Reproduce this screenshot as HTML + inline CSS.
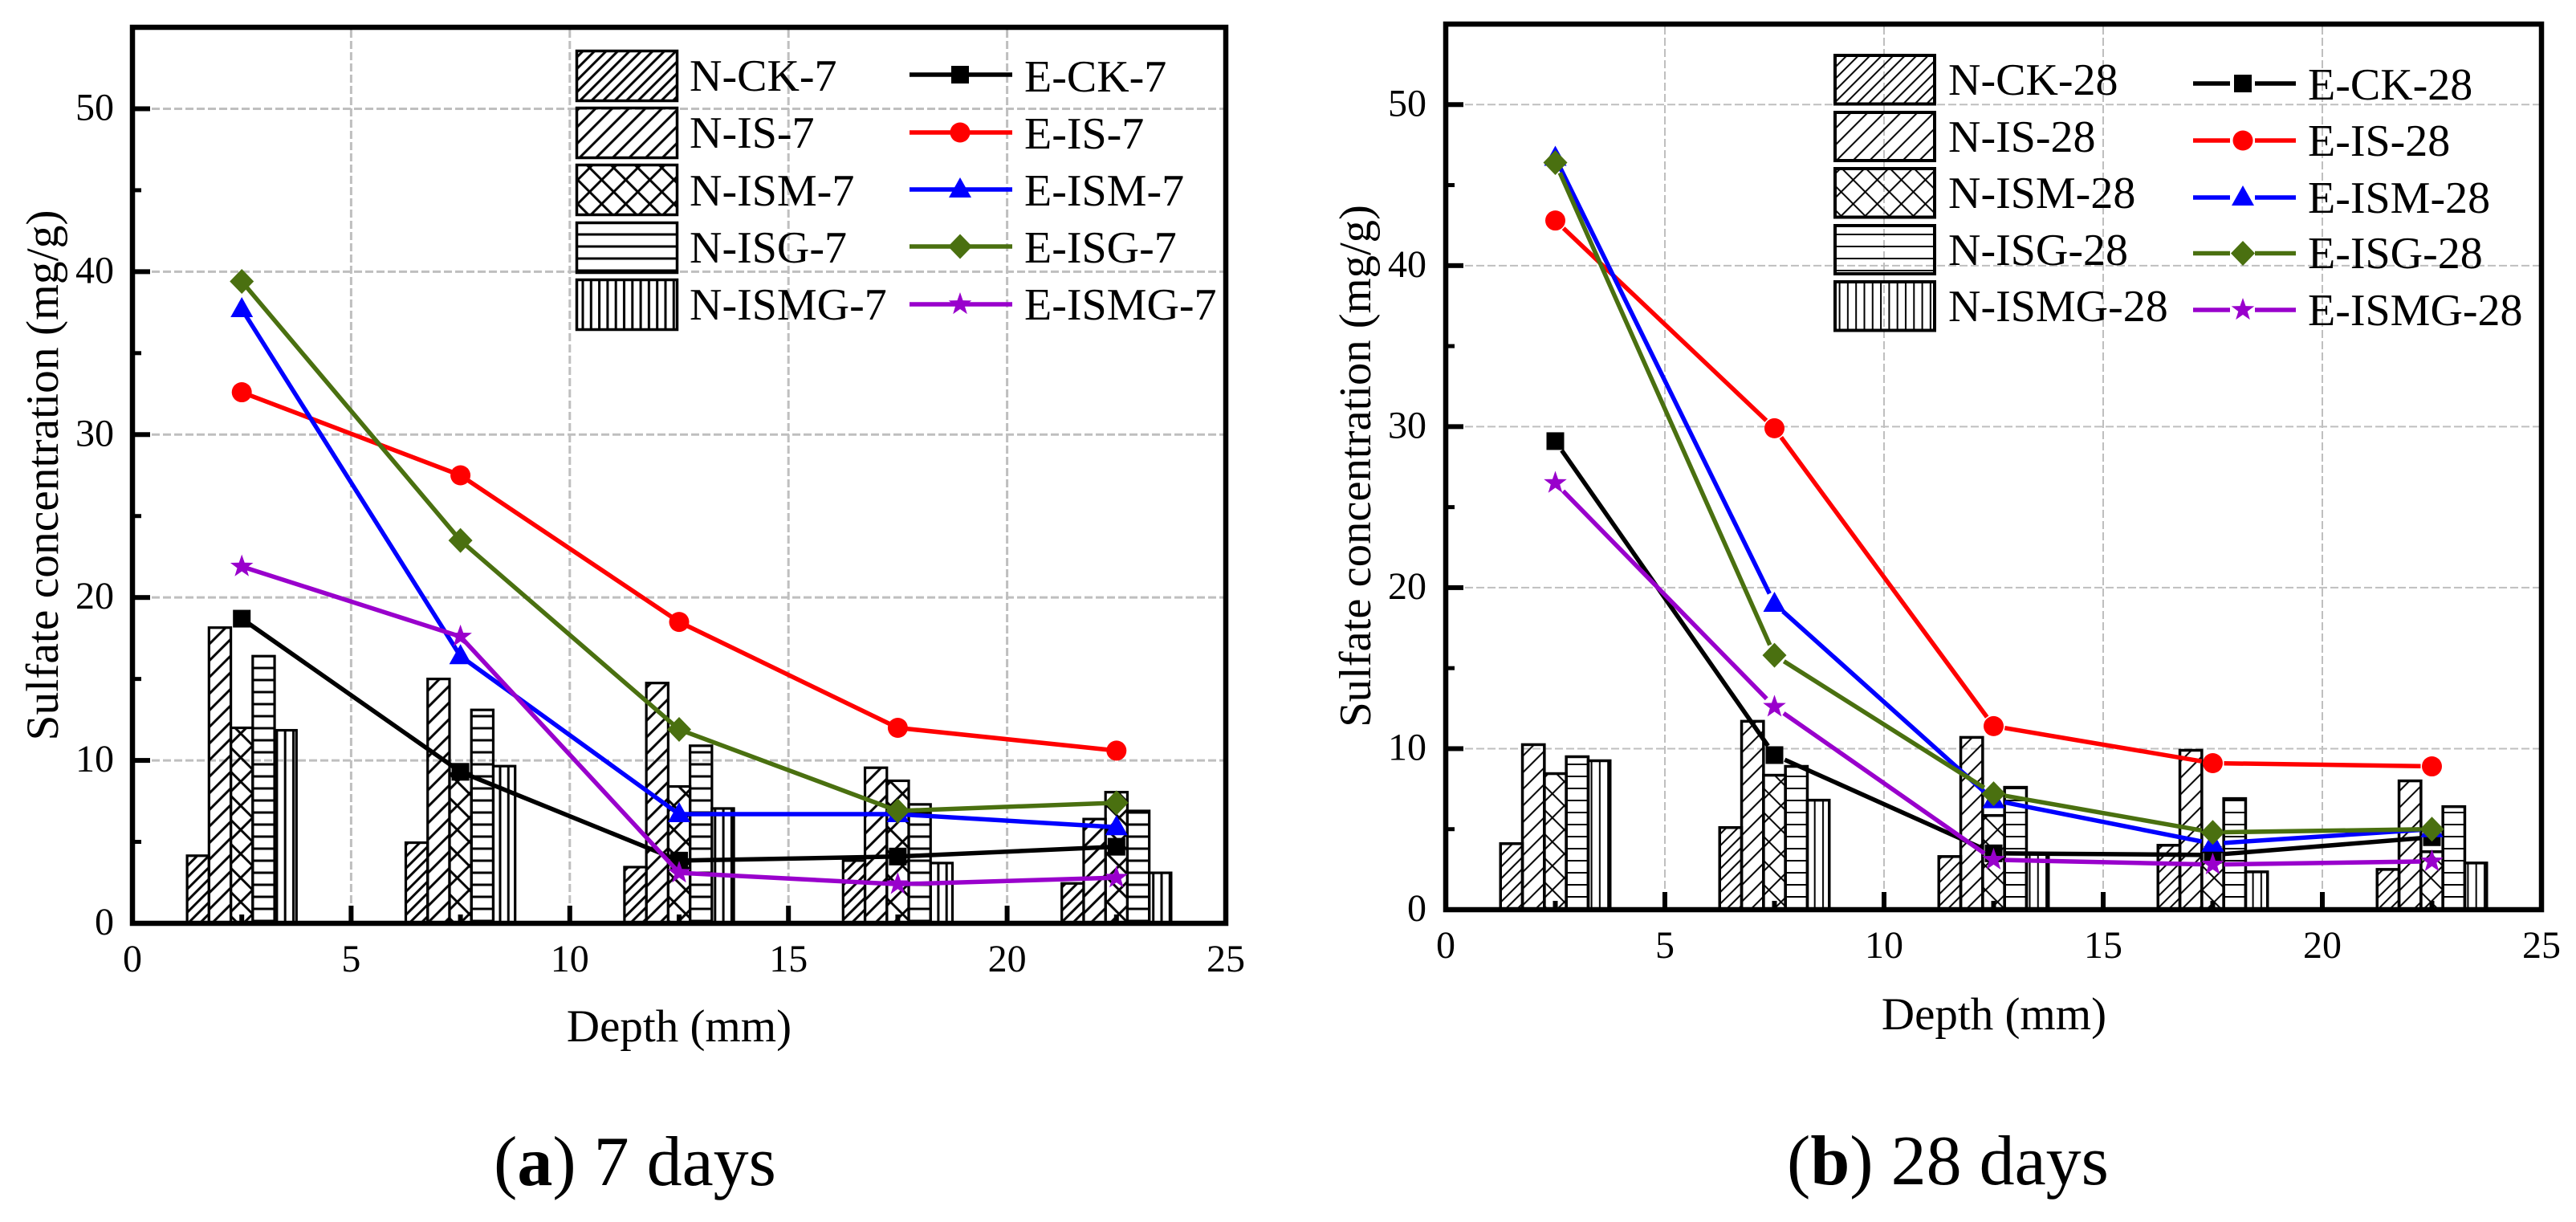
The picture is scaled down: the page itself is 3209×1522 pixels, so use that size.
<!DOCTYPE html>
<html lang="en">
<head>
<meta charset="utf-8">
<title>Sulfate concentration vs depth</title>
<style>
html,body{margin:0;padding:0;background:#fff;}
svg{display:block;}
text{font-family:"Liberation Serif",serif;fill:#000;}
.leg{font-size:56px;}
.ttl{font-size:57px;}
.cap{font-size:88px;}
</style>
</head>
<body>
<svg id="figure" xmlns="http://www.w3.org/2000/svg" width="3209" height="1522" viewBox="0 0 3209 1522">
<defs>
<pattern id="ck-7" patternUnits="userSpaceOnUse" width="10.25" height="10.25" patternTransform="rotate(45)"><line x1="5" y1="0" x2="5" y2="10.25" stroke="#000" stroke-width="3"/></pattern>
<pattern id="is-7" patternUnits="userSpaceOnUse" width="14.6" height="14.6" patternTransform="rotate(45)"><line x1="7" y1="0" x2="7" y2="14.6" stroke="#000" stroke-width="3"/></pattern>
<pattern id="ism-7" patternUnits="userSpaceOnUse" width="21.2" height="21.2" patternTransform="rotate(45)"><line x1="10" y1="0" x2="10" y2="21.2" stroke="#000" stroke-width="3"/><line x1="0" y1="10" x2="21.2" y2="10" stroke="#000" stroke-width="3"/></pattern>
<pattern id="isg-7" patternUnits="userSpaceOnUse" width="15" height="15"><line x1="0" y1="7" x2="15" y2="7" stroke="#000" stroke-width="3"/></pattern>
<pattern id="ismg-7" patternUnits="userSpaceOnUse" width="10.3" height="10.3"><line x1="5" y1="0" x2="5" y2="10.3" stroke="#000" stroke-width="3"/></pattern>
<pattern id="ck-28" patternUnits="userSpaceOnUse" width="10.25" height="10.25" patternTransform="rotate(45)"><line x1="5" y1="0" x2="5" y2="10.25" stroke="#000" stroke-width="2"/></pattern>
<pattern id="is-28" patternUnits="userSpaceOnUse" width="14.6" height="14.6" patternTransform="rotate(45)"><line x1="7" y1="0" x2="7" y2="14.6" stroke="#000" stroke-width="2"/></pattern>
<pattern id="ism-28" patternUnits="userSpaceOnUse" width="21.2" height="21.2" patternTransform="rotate(45)"><line x1="10" y1="0" x2="10" y2="21.2" stroke="#000" stroke-width="2"/><line x1="0" y1="10" x2="21.2" y2="10" stroke="#000" stroke-width="2"/></pattern>
<pattern id="isg-28" patternUnits="userSpaceOnUse" width="15" height="15"><line x1="0" y1="7" x2="15" y2="7" stroke="#000" stroke-width="2"/></pattern>
<pattern id="ismg-28" patternUnits="userSpaceOnUse" width="10.3" height="10.3"><line x1="5" y1="0" x2="5" y2="10.3" stroke="#000" stroke-width="2"/></pattern>
</defs>

<g id="panel-7"></g>
<g id="panel-28"></g>

<!-- Left panel static text -->
<text class="ttl" text-anchor="middle" style="font-size:57.5px" transform="translate(72,592) rotate(-90)">Sulfate concentration (mg/g)</text>
<text class="ttl" text-anchor="middle" x="846" y="1297">Depth (mm)</text>
<text class="cap" x="615" y="1476">(<tspan font-weight="bold">a</tspan>) 7 days</text>

<!-- Left legend -->
<g>
  <g><rect x="718.5" y="63.5" width="125" height="62" fill="url(#ck-7)" stroke="#000" stroke-width="3.5"/><text class="leg" x="859" y="113">N-CK-7</text></g>
  <g><rect x="718.5" y="134.5" width="125" height="62" fill="url(#is-7)" stroke="#000" stroke-width="3.5"/><text class="leg" x="859" y="184">N-IS-7</text></g>
  <g><rect x="718.5" y="205.5" width="125" height="62" fill="url(#ism-7)" stroke="#000" stroke-width="3.5"/><text class="leg" x="859" y="256">N-ISM-7</text></g>
  <g><rect x="718.5" y="277.5" width="125" height="62" fill="url(#isg-7)" stroke="#000" stroke-width="3.5"/><text class="leg" x="859" y="327">N-ISG-7</text></g>
  <g><rect x="718.5" y="348.5" width="125" height="62" fill="url(#ismg-7)" stroke="#000" stroke-width="3.5"/><text class="leg" x="859" y="398">N-ISMG-7</text></g>

  <g><line x1="1133" y1="93" x2="1261" y2="93" stroke="#000" stroke-width="5.5"/><rect x="1185" y="82" width="22" height="22" fill="#000"/><text class="leg" x="1276" y="114">E-CK-7</text></g>
  <g><line x1="1133" y1="165" x2="1261" y2="165" stroke="#ff0000" stroke-width="5.5"/><circle cx="1196" cy="165" r="12.5" fill="#ff0000"/><text class="leg" x="1276" y="185">E-IS-7</text></g>
  <g><line x1="1133" y1="236" x2="1261" y2="236" stroke="#0000ff" stroke-width="5.5"/><polygon transform="translate(1196,236)" points="0,-15 14,10 -14,10" fill="#0000ff"/><text class="leg" x="1276" y="256">E-ISM-7</text></g>
  <g><line x1="1133" y1="307" x2="1261" y2="307" stroke="#4a7010" stroke-width="5.5"/><polygon transform="translate(1196,307)" points="0,-15.5 15,0 0,15.5 -15,0" fill="#4a7010"/><text class="leg" x="1276" y="327">E-ISG-7</text></g>
  <g><line x1="1133" y1="379" x2="1261" y2="379" stroke="#9900cc" stroke-width="5.5"/><polygon transform="translate(1196,379)" points="0,-15 3.53,-4.85 14.27,-4.64 5.71,1.85 8.82,12.14 0,6 -8.82,12.14 -5.71,1.85 -14.27,-4.64 -3.53,-4.85" fill="#9900cc"/><text class="leg" x="1276" y="398">E-ISMG-7</text></g>
</g>

<!-- Right panel static text -->
<text class="ttl" text-anchor="middle" style="font-size:56.6px" transform="translate(1707,580.5) rotate(-90)">Sulfate concentration (mg/g)</text>
<text class="ttl" text-anchor="middle" x="2484" y="1282">Depth (mm)</text>
<text class="cap" x="2226" y="1475">(<tspan font-weight="bold">b</tspan>) 28 days</text>

<!-- Right legend -->
<g>
  <g><rect x="2286" y="69" width="124" height="60.5" fill="url(#ck-28)" stroke="#000" stroke-width="4"/><text class="leg" x="2427" y="118">N-CK-28</text></g>
  <g><rect x="2286" y="140" width="124" height="60" fill="url(#is-28)" stroke="#000" stroke-width="4"/><text class="leg" x="2427" y="189">N-IS-28</text></g>
  <g><rect x="2286" y="210" width="124" height="60.5" fill="url(#ism-28)" stroke="#000" stroke-width="4"/><text class="leg" x="2427" y="259">N-ISM-28</text></g>
  <g><rect x="2286" y="281" width="124" height="60" fill="url(#isg-28)" stroke="#000" stroke-width="4"/><text class="leg" x="2427" y="330">N-ISG-28</text></g>
  <g><rect x="2286" y="351" width="124" height="60.5" fill="url(#ismg-28)" stroke="#000" stroke-width="4"/><text class="leg" x="2427" y="400">N-ISMG-28</text></g>

  <g><path d="M2732 104H2778M2809 104H2860" stroke="#000" stroke-width="5.5" fill="none"/><rect x="2783" y="93" width="22" height="22" fill="#000"/><text class="leg" x="2875" y="124">E-CK-28</text></g>
  <g><path d="M2732 175H2778M2809 175H2860" stroke="#ff0000" stroke-width="5.5" fill="none"/><circle cx="2794" cy="175" r="12.5" fill="#ff0000"/><text class="leg" x="2875" y="194">E-IS-28</text></g>
  <g><path d="M2732 246H2778M2809 246H2860" stroke="#0000ff" stroke-width="5.5" fill="none"/><polygon transform="translate(2794,246)" points="0,-15 14,10 -14,10" fill="#0000ff"/><text class="leg" x="2875" y="265">E-ISM-28</text></g>
  <g><path d="M2732 315.5H2778M2809 315.5H2860" stroke="#4a7010" stroke-width="5.5" fill="none"/><polygon transform="translate(2794,315.5)" points="0,-15.5 15,0 0,15.5 -15,0" fill="#4a7010"/><text class="leg" x="2875" y="334">E-ISG-28</text></g>
  <g><path d="M2732 386H2778M2809 386H2860" stroke="#9900cc" stroke-width="5.5" fill="none"/><polygon transform="translate(2794,386)" points="0,-15 3.53,-4.85 14.27,-4.64 5.71,1.85 8.82,12.14 0,6 -8.82,12.14 -5.71,1.85 -14.27,-4.64 -3.53,-4.85" fill="#9900cc"/><text class="leg" x="2875" y="405">E-ISMG-28</text></g>
</g>
</svg>

<script>
// ---- Shared categories and tick labels ----
const depths = [2.5, 7.5, 12.5, 17.5, 22.5];
const xTickLabels = [0, 5, 10, 15, 20, 25];
const yTickLabels = [0, 10, 20, 30, 40, 50];
const xMinorTicks = [2.5, 7.5, 12.5, 17.5, 22.5];
const yMinorTicks = [5, 15, 25, 35, 45];

// ---- 7-day bars ----
const nCk7   = [4.15, 4.95, 3.45, 3.85, 2.45];
const nIs7   = [18.15, 15.0, 14.75, 9.55, 6.4];
const nIsm7  = [12.0, 9.2, 8.4, 8.75, 8.05];
const nIsg7  = [16.4, 13.1, 10.9, 7.3, 6.9];
const nIsmg7 = [11.85, 9.65, 7.05, 3.7, 3.1];

// ---- 7-day lines ----
const eCk7   = [18.7, 9.3, 3.85, 4.1, 4.7];
const eIs7   = [32.6, 27.5, 18.5, 12.0, 10.6];
const eIsm7  = [37.7, 16.4, 6.7, 6.7, 5.9];
const eIsg7  = [39.4, 23.5, 11.9, 6.9, 7.4];
const eIsmg7 = [21.9, 17.6, 3.1, 2.4, 2.8];

// ---- 28-day bars ----
const nCk28   = [4.1, 5.1, 3.3, 4.0, 2.5];
const nIs28   = [10.25, 11.7, 10.7, 9.9, 8.0];
const nIsm28  = [8.45, 8.35, 5.85, 3.6, 3.6];
const nIsg28  = [9.5, 8.9, 7.6, 6.9, 6.4];
const nIsmg28 = [9.25, 6.8, 3.5, 2.35, 2.9];

// ---- 28-day lines ----
const eCk28   = [29.1, 9.6, 3.5, 3.4, 4.5];
const eIs28   = [42.8, 29.9, 11.4, 9.1, 8.9];
const eIsm28  = [46.7, 19.0, 6.8, 4.1, 5.0];
const eIsg28  = [46.4, 15.8, 7.2, 4.8, 5.0];
const eIsmg28 = [26.5, 12.6, 3.1, 2.8, 3.0];

const NS = 'http://www.w3.org/2000/svg';
const STAR = '0,-15 3.53,-4.85 14.27,-4.64 5.71,1.85 8.82,12.14 0,6 -8.82,12.14 -5.71,1.85 -14.27,-4.64 -3.53,-4.85';

function make(parent, tag, attrs) {
  const el = document.createElementNS(NS, tag);
  for (const k in attrs) el.setAttribute(k, attrs[k]);
  parent.appendChild(el);
  return el;
}

function drawMarker(parent, kind, cx, cy, color) {
  let m;
  if (kind === 'square') {
    m = make(parent, 'rect', {x: cx - 11, y: cy - 11, width: 22, height: 22, fill: color});
  } else if (kind === 'circle') {
    m = make(parent, 'circle', {cx: cx, cy: cy, r: 12.5, fill: color});
  } else if (kind === 'triangle') {
    m = make(parent, 'polygon', {points: '0,-15 14,10 -14,10', transform: 'translate(' + cx + ',' + cy + ')', fill: color});
  } else if (kind === 'diamond') {
    m = make(parent, 'polygon', {points: '0,-15.5 15,0 0,15.5 -15,0', transform: 'translate(' + cx + ',' + cy + ')', fill: color});
  } else {
    m = make(parent, 'polygon', {points: STAR, transform: 'translate(' + cx + ',' + cy + ')', fill: color});
  }
  return m;
}

function drawPanel(p) {
  const root = document.getElementById(p.id);
  const xScale = v => p.left + v * (p.right - p.left) / 25;
  const yScale = v => p.bottom - v * (p.bottom - p.top) / 55;

  // Grid
  xTickLabels.slice(1, 5).forEach(v => {
    const g = make(root, 'line', {x1: xScale(v), x2: xScale(v), y1: p.top + 3, y2: p.bottom - 22, stroke: '#bfbfbf', 'stroke-width': p.gridW, 'stroke-dasharray': '10 4'});
    
    
  });
  yTickLabels.slice(1).forEach(v => {
    const g = make(root, 'line', {x1: p.left + 24, x2: p.right - 3, y1: yScale(v), y2: yScale(v), stroke: '#bfbfbf', 'stroke-width': p.gridW, 'stroke-dasharray': '10 4'});
    
    
  });

  // Bars
  p.bars.forEach((series, i) => {
    series.values.forEach((val, k) => {
      const x0 = xScale(depths[k] + (i - 2.5) * 0.5);
      const x1 = xScale(depths[k] + (i - 1.5) * 0.5);
      const bar = make(root, 'rect', {x: x0, y: yScale(val), width: x1 - x0, height: yScale(0) - yScale(val), fill: 'url(#' + series.pattern + ')', stroke: '#000', 'stroke-width': p.barW});
      
      
    });
  });

  // Axis ticks
  xTickLabels.forEach(v => {
    const t = make(root, 'rect', {x: xScale(v) - 3, y: p.bottom - 22, width: 6, height: 22, fill: '#000'});
    
    
    const lab = make(root, 'text', {x: xScale(v), y: p.xLabelY, 'text-anchor': 'middle', 'font-size': 48});
    
    
    lab.textContent = v;
  });
  xMinorTicks.forEach(v => {
    const t = make(root, 'rect', {x: xScale(v) - 3, y: p.bottom - 11, width: 6, height: 11, fill: '#000'});
    
    
  });
  yTickLabels.forEach(v => {
    const t = make(root, 'rect', {x: p.left, y: yScale(v) - 3, width: 22, height: 6, fill: '#000'});
    
    
    const lab = make(root, 'text', {x: p.yLabelX, y: yScale(v) + 14, 'text-anchor': 'end', 'font-size': 48});
    
    
    lab.textContent = v;
  });
  yMinorTicks.forEach(v => {
    const t = make(root, 'rect', {x: p.left, y: yScale(v) - 2.5, width: 11, height: 5, fill: '#000'});
    
    
  });

  // Frame
  const frame = make(root, 'rect', {x: p.left, y: p.top, width: p.right - p.left, height: p.bottom - p.top, fill: 'none', stroke: '#000', 'stroke-width': 6.5});
  
  

  // Lines and markers
  p.lines.forEach(series => {
    const pts = series.values.map((v, k) => [xScale(depths[k]), yScale(v)]);
    for (let k = 0; k < pts.length - 1; k++) {
      const a = pts[k], b = pts[k + 1];
      const dx = b[0] - a[0], dy = b[1] - a[1];
      const len = Math.hypot(dx, dy);
      const ux = dx / len, uy = dy / len;
      const seg = make(root, 'line', {
        x1: a[0] + ux * p.gap, y1: a[1] + uy * p.gap,
        x2: b[0] - ux * p.gap, y2: b[1] - uy * p.gap,
        stroke: series.color, 'stroke-width': p.lineW
      });
      
      
    }
    pts.forEach(pt => {
      const m = drawMarker(root, series.marker, pt[0], pt[1], series.color);
      
      
    });
  });
}

drawPanel({
  id: 'panel-7', left: 165, right: 1527, top: 34, bottom: 1150,
  xLabelY: 1210, yLabelX: 142, gridW: 3, barW: 3.2, lineW: 5.5, gap: 0,
  bars: [
    {name: 'n-ck-7', pattern: 'ck-7', values: nCk7},
    {name: 'n-is-7', pattern: 'is-7', values: nIs7},
    {name: 'n-ism-7', pattern: 'ism-7', values: nIsm7},
    {name: 'n-isg-7', pattern: 'isg-7', values: nIsg7},
    {name: 'n-ismg-7', pattern: 'ismg-7', values: nIsmg7}
  ],
  lines: [
    {name: 'e-ck-7', color: '#000000', marker: 'square', values: eCk7},
    {name: 'e-is-7', color: '#ff0000', marker: 'circle', values: eIs7},
    {name: 'e-ism-7', color: '#0000ff', marker: 'triangle', values: eIsm7},
    {name: 'e-isg-7', color: '#4a7010', marker: 'diamond', values: eIsg7},
    {name: 'e-ismg-7', color: '#9900cc', marker: 'star', values: eIsmg7}
  ]
});

drawPanel({
  id: 'panel-28', left: 1801, right: 3166, top: 30, bottom: 1133,
  xLabelY: 1193, yLabelX: 1777, gridW: 2, barW: 3.5, lineW: 5.5, gap: 14,
  bars: [
    {name: 'n-ck-28', pattern: 'ck-28', values: nCk28},
    {name: 'n-is-28', pattern: 'is-28', values: nIs28},
    {name: 'n-ism-28', pattern: 'ism-28', values: nIsm28},
    {name: 'n-isg-28', pattern: 'isg-28', values: nIsg28},
    {name: 'n-ismg-28', pattern: 'ismg-28', values: nIsmg28}
  ],
  lines: [
    {name: 'e-ck-28', color: '#000000', marker: 'square', values: eCk28},
    {name: 'e-is-28', color: '#ff0000', marker: 'circle', values: eIs28},
    {name: 'e-ism-28', color: '#0000ff', marker: 'triangle', values: eIsm28},
    {name: 'e-isg-28', color: '#4a7010', marker: 'diamond', values: eIsg28},
    {name: 'e-ismg-28', color: '#9900cc', marker: 'star', values: eIsmg28}
  ]
});
</script>
</body>
</html>
